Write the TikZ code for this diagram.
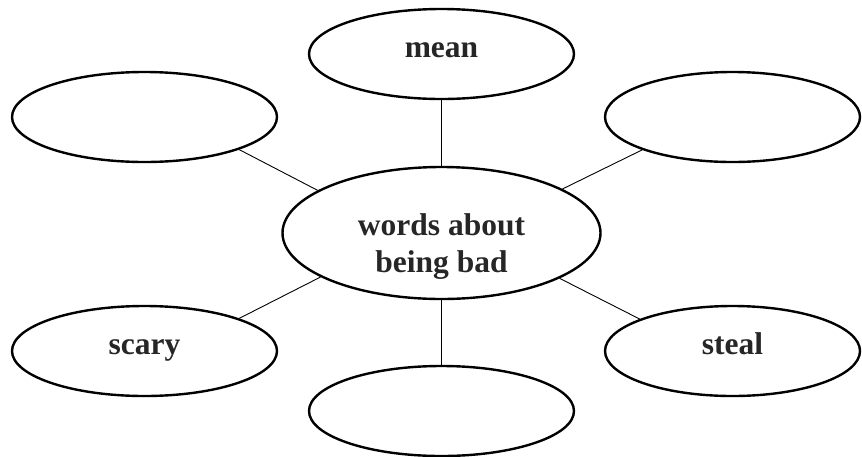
\documentclass[tikz,border=0pt]{standalone}
\usepackage{fontspec}
\setmainfont{Liberation Serif}
\usetikzlibrary{shapes.geometric}
\begin{document}
\begin{tikzpicture}[x=1pt,y=-1pt,
  bub/.style={ellipse, draw=black, line width=2.4pt, inner sep=0pt,
    font=\fontsize{31.5}{37}\selectfont\bfseries,
    text height=20pt, text depth=13pt, text=black!85},
  wide/.style={minimum width=265pt, minimum height=90pt},
  narrow/.style={minimum width=255pt, minimum height=90pt},
  lbl/.style={font=\fontsize{31.5}{37}\selectfont\bfseries, anchor=base, inner sep=0pt, text=black!85},
  link/.style={draw=black, line width=0.9pt}]
\useasboundingbox (0,0) rectangle (862,456);
\node[bub, wide] (mean) at (441.5,54) {mean};
\node[bub, wide] (tl) at (144.5,117) {};
\node[bub, narrow] (tr) at (732.5,117) {};
\node[bub, minimum width=318pt, minimum height=132pt] (c) at (441.5,233) {};
\node[lbl] (c1) at (441.5,235) {words about};
\node[lbl] (c2) at (441.5,272) {being bad};
\node[bub, wide] (scary) at (144.5,351) {scary};
\node[bub, narrow] (steal) at (732.5,351) {steal};
\node[bub, wide] (bot) at (441.5,411) {};
\draw[link] (mean.south) -- (c.north);
\draw[link] (c.south) -- (bot.north);
\draw[link] (tl.-19.5) -- (c.161);
\draw[link] (tr.200) -- (c.20);
\draw[link] (scary.19) -- (c.200);
\draw[link] (steal.161) -- (c.339);
\end{tikzpicture}
\end{document}
